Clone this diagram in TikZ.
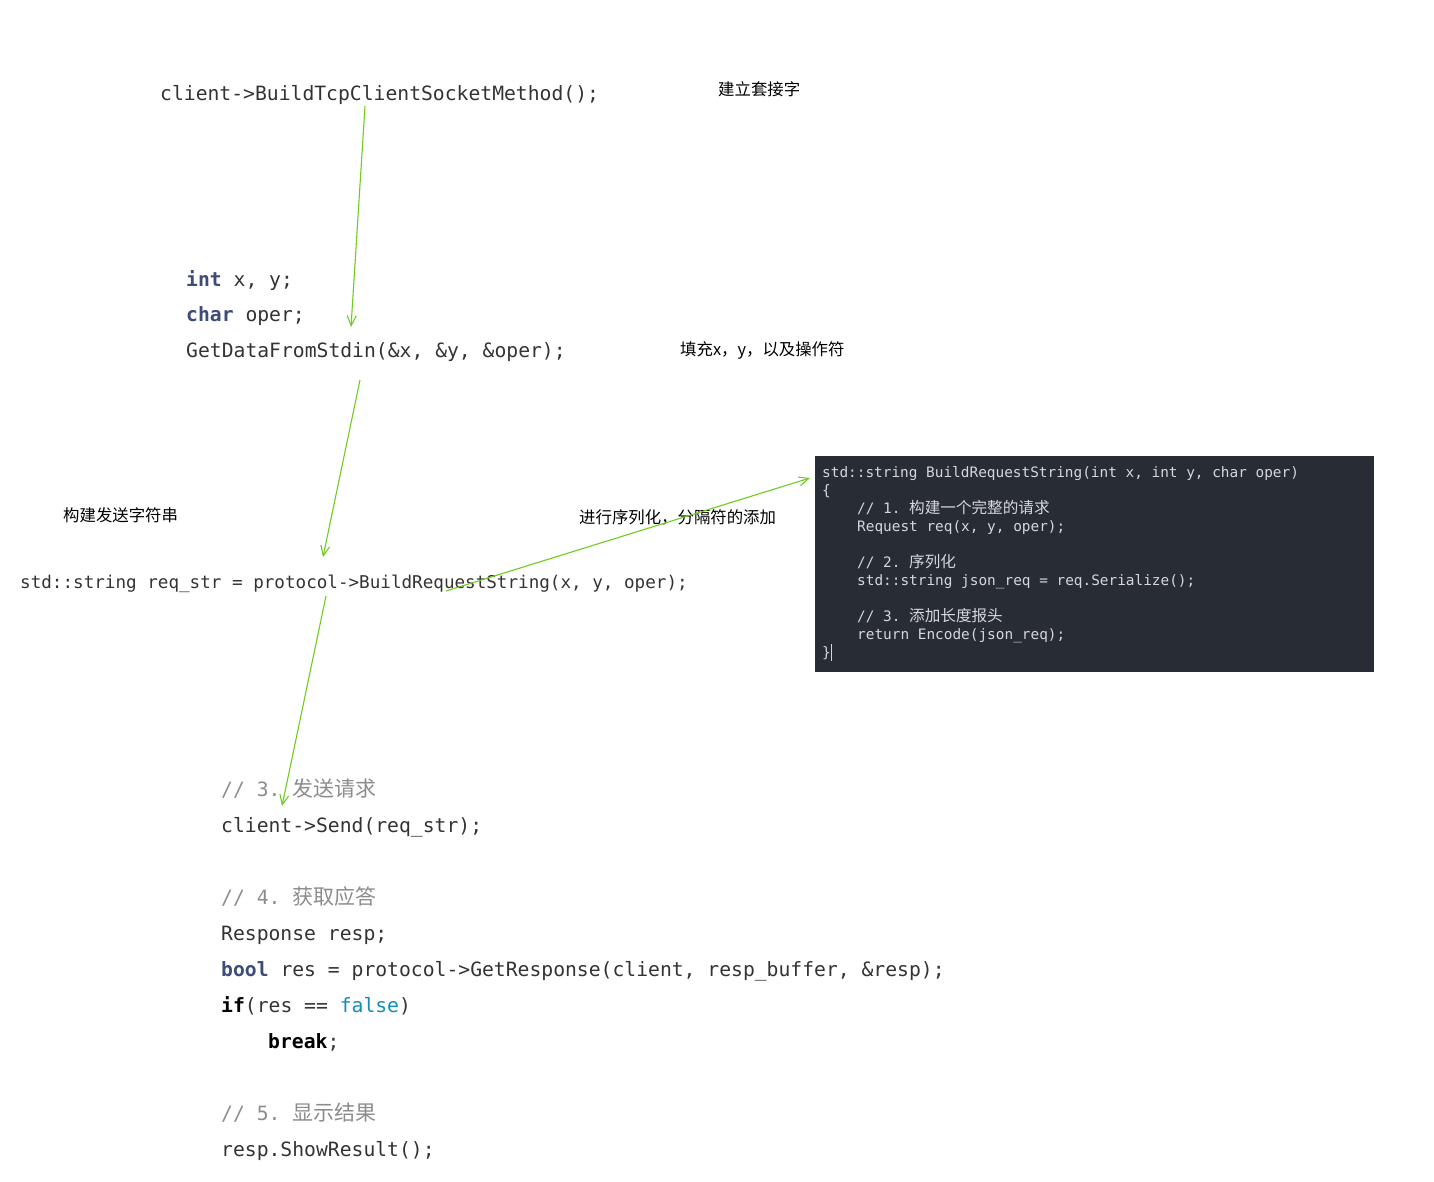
\documentclass[tikz,border=0pt]{standalone}
\usepackage{fontspec}
\setmonofont{DejaVu Sans Mono}
\newfontfamily\cjk{Noto Sans CJK SC}
\usetikzlibrary{arrows.meta}
\definecolor{arrowgreen}{RGB}{110,204,30}
\definecolor{codetext}{RGB}{51,51,51}
\definecolor{kwblue}{RGB}{62,76,122}
\definecolor{cmtgray}{RGB}{140,140,140}
\definecolor{falseblue}{RGB}{20,140,185}
\definecolor{boxbg}{RGB}{40,44,52}
\definecolor{boxtext}{RGB}{212,215,221}
\newcommand{\kwd}[1]{\textcolor{kwblue}{\bfseries #1}}
\newcommand{\bkw}[1]{\textcolor{black}{\bfseries #1}}
\begin{document}
\begin{tikzpicture}[x=1pt,y=-1pt,
  codebig/.style={anchor=base west, inner sep=0pt, text=codetext, font=\fontsize{19.7}{22}\selectfont\ttfamily},
  codemid/.style={anchor=base west, inner sep=0pt, text=codetext, font=\fontsize{17.6}{20}\selectfont\ttfamily},
  cmt/.style={codebig, text=cmtgray},
  boxline/.style={anchor=base west, inner sep=0pt, text=boxtext, font=\fontsize{14.4}{16}\selectfont\ttfamily},
  label/.style={anchor=west, inner sep=0pt, text=black, font=\fontsize{16.4}{18}\selectfont\cjk},
  flow/.style={draw=arrowgreen, line width=1.1pt, -{Straight Barb[length=10pt,width=9pt]}}
]
\useasboundingbox (0,0) rectangle (1434,1182);

% top code
\node[codebig] (sock) at (160,101) {client->BuildTcpClientSocketMethod();};
\node[label] (l1) at (718,89) {建立套接字};

\node[codebig] (intxy) at (186,286) {\kwd{int} x, y;};
\node[codebig] (charop) at (186,321.5) {\kwd{char} oper;};
\node[codebig] (getdata) at (186,357) {GetDataFromStdin(\&x, \&y, \&oper);};
\node[label] (l2) at (680,350) {填充x，y，以及操作符};

\node[label] (l3) at (63,515) {构建发送字符串};
\node[label] (l4) at (579,517) {进行序列化，分隔符的添加};
\node[codemid] (reqstr) at (20,588) {std::string req\_str = protocol->BuildRequestString(x, y, oper);};

% dark code box
\node[fill=boxbg, inner sep=0pt, minimum width=559pt, minimum height=216pt, anchor=north west] (box) at (815,456) {};
\node[boxline] (b1) at (822,477) {std::string BuildRequestString(int x, int y, char oper)};
\node[boxline] (b2) at (822,495) {\{};
\node[boxline] (b3) at (857,513) {// 1. {\cjk\fontsize{15.6}{16}\selectfont 构建一个完整的请求}};
\node[boxline] (b4) at (857,531) {Request req(x, y, oper);};
\node[boxline] (b5) at (857,567) {// 2. {\cjk\fontsize{15.6}{16}\selectfont 序列化}};
\node[boxline] (b6) at (857,585) {std::string json\_req = req.Serialize();};
\node[boxline] (b7) at (857,621) {// 3. {\cjk\fontsize{15.6}{16}\selectfont 添加长度报头}};
\node[boxline] (b8) at (857,639) {return Encode(json\_req);};
\node[boxline] (b9) at (822,657) {\}};
\coordinate (curT) at (831,644);
\coordinate (curB) at (831,661);
\draw[boxtext, line width=0.8pt] (curT) -- (curB);

% bottom code
\node[cmt] (c3) at (221,796) {// 3. {\cjk\fontsize{21}{22}\selectfont 发送请求}};
\node[codebig] (send) at (221,832) {client->Send(req\_str);};
\node[cmt] (c4) at (221,904) {// 4. {\cjk\fontsize{21}{22}\selectfont 获取应答}};
\node[codebig] (resp) at (221,940) {Response resp;};
\node[codebig] (boolres) at (221,976) {\kwd{bool} res = protocol->GetResponse(client, resp\_buffer, \&resp);};
\node[codebig] (iff) at (221,1012) {\bkw{if}(res == \textcolor{falseblue}{false})};
\node[codebig] (brk) at (268,1048) {\bkw{break};};
\node[cmt] (c5) at (221,1120) {// 5. {\cjk\fontsize{21}{22}\selectfont 显示结果}};
\node[codebig] (show) at (221,1156) {resp.ShowResult();};

% arrows
\coordinate (a1s) at (365,106);
\coordinate (a1e) at (351,327);
\coordinate (a2s) at (360,380);
\coordinate (a2e) at (323,557);
\coordinate (a3s) at (446,591);
\coordinate (a3e) at (810,478);
\coordinate (a4s) at (326,596);
\coordinate (a4e) at (282,806);
\draw[flow] (a1s) -- (a1e);
\draw[flow] (a2s) -- (a2e);
\draw[flow] (a3s) -- (a3e);
\draw[flow] (a4s) -- (a4e);
\end{tikzpicture}
\end{document}
